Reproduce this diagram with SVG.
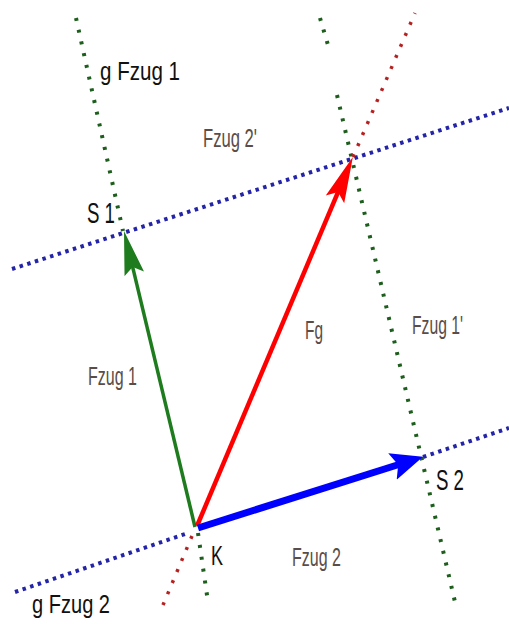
<svg xmlns="http://www.w3.org/2000/svg" width="509" height="624" viewBox="0 0 509 624">
<style>
.bg{fill:#ffffff}
.dg{fill:none;stroke:#1d5e1d;stroke-width:4;stroke-dasharray:3 9}
.db{fill:none;stroke:#2424a8;stroke-width:4;stroke-dasharray:3.5 4.5}
.dr{fill:none;stroke:#b52020;stroke-width:3.5;stroke-dasharray:3 9}
.lbl{font-family:"Liberation Sans",Arial,sans-serif;fill:#111111}
.gl{font-family:"Liberation Sans",Arial,sans-serif;fill:#5a4d48}
</style>
<defs>
<marker id="hg" viewBox="0 -12 50 24" markerWidth="50" markerHeight="24" refX="14" refY="0" orient="auto" markerUnits="userSpaceOnUse">
<path d="M0,-10 L44,0 L0,10 L7,0 Z" fill="#1e7b1e"/>
</marker>
<marker id="hr" viewBox="0 -12 50 24" markerWidth="50" markerHeight="24" refX="16" refY="0" orient="auto" markerUnits="userSpaceOnUse">
<path d="M0,-10 L46,0 L0,10 L8,0 Z" fill="#ff0000"/>
</marker>
<marker id="hb" viewBox="0 -16 36 32" markerWidth="36" markerHeight="32" refX="10" refY="0" orient="auto" markerUnits="userSpaceOnUse">
<path d="M0,-14 L32,0 L0,14 L6,0 Z" fill="#0000ff"/>
</marker>
</defs>
<rect class="bg" x="0" y="0" width="509" height="624"/>
<g id="connectors">
<line class="dg" x1="76" y1="18" x2="123" y2="231"/>
<line class="dg" x1="198" y1="533" x2="208" y2="602"/>
<line class="dg" x1="320" y1="18" x2="328" y2="45"/>
<line class="dg" x1="337" y1="95" x2="455" y2="602"/>
<line class="db" x1="12" y1="269" x2="509" y2="108"/>
<line class="db" x1="15" y1="592" x2="188" y2="533"/>
<line class="db" x1="423" y1="457" x2="509" y2="428"/>
<line class="dr" x1="353" y1="157" x2="415" y2="13"/>
<line class="dr" x1="192" y1="536" x2="163" y2="605"/>
<line x1="195" y1="527" x2="131" y2="260.2" stroke="#1e7b1e" stroke-width="3.5" marker-end="url(#hg)"/>
<line x1="197" y1="526" x2="341.2" y2="184.6" stroke="#ff0000" stroke-width="4.5" marker-end="url(#hr)"/>
<line x1="198" y1="528" x2="402" y2="463.5" stroke="#0000ff" stroke-width="7" marker-end="url(#hb)"/>
</g>
<g id="label-gFzug1"><text class="lbl" x="100" y="80" font-size="25" textLength="80" lengthAdjust="spacingAndGlyphs">g Fzug 1</text></g>
<g id="label-Fzug2p"><text class="gl" x="203" y="147" font-size="25" textLength="54" lengthAdjust="spacingAndGlyphs">Fzug 2'</text></g>
<g id="node-S1"><text class="lbl" x="87" y="223" font-size="29" textLength="28" lengthAdjust="spacingAndGlyphs">S 1</text></g>
<g id="label-Fzug1"><text class="gl" x="88" y="385" font-size="25" textLength="49" lengthAdjust="spacingAndGlyphs">Fzug 1</text></g>
<g id="label-Fg"><text class="gl" x="305" y="339" font-size="25" textLength="18" lengthAdjust="spacingAndGlyphs">Fg</text></g>
<g id="label-Fzug1p"><text class="gl" x="412" y="334" font-size="25" textLength="51" lengthAdjust="spacingAndGlyphs">Fzug 1'</text></g>
<g id="node-K"><text class="lbl" x="211" y="565" font-size="28" textLength="12" lengthAdjust="spacingAndGlyphs">K</text></g>
<g id="label-Fzug2"><text class="gl" x="292" y="566" font-size="25" textLength="49" lengthAdjust="spacingAndGlyphs">Fzug 2</text></g>
<g id="label-gFzug2"><text class="lbl" x="32" y="613" font-size="26" textLength="78" lengthAdjust="spacingAndGlyphs">g Fzug 2</text></g>
<g id="node-S2"><text class="lbl" x="436" y="490" font-size="29" textLength="28" lengthAdjust="spacingAndGlyphs">S 2</text></g>
</svg>
